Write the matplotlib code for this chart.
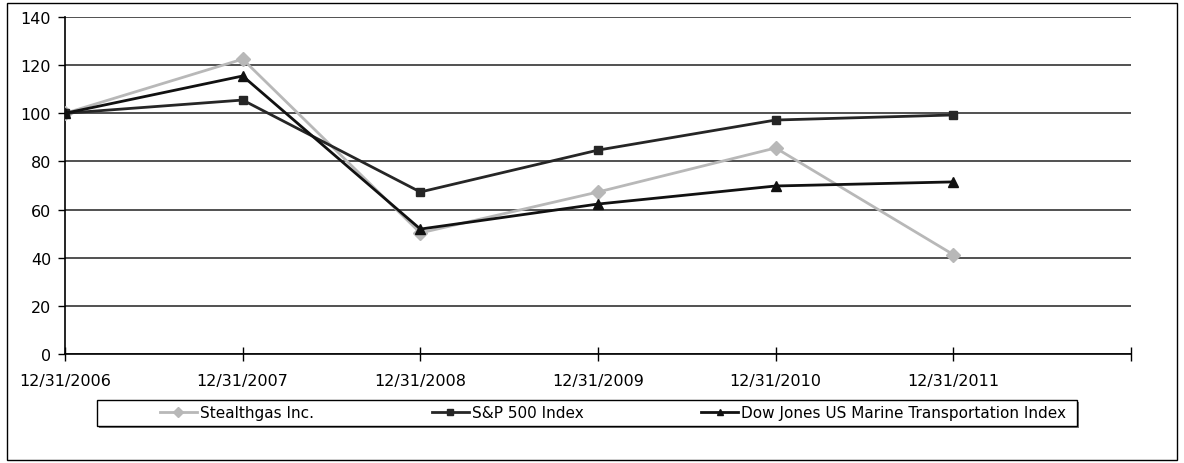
import matplotlib.pyplot as plt
from matplotlib.patches import Rectangle

plt.rcParams['font.family'] = ['DejaVu Sans']

dates = ['12/31/2006', '12/31/2007', '12/31/2008', '12/31/2009', '12/31/2010', '12/31/2011']
stealthgas = [100, 122.5, 50.3, 67.3, 85.6, 41.3]
sp500 = [100, 105.5, 67.3, 84.7, 97.2, 99.3]
dow_marine = [100, 115.5, 51.9, 62.3, 69.8, 71.5]

fig = plt.figure(figsize=(11.84, 4.64), dpi=100)
ax = fig.add_axes([0.0549, 0.2349, 0.9003, 0.7263])

# outer border round the whole chart
fig.patches.append(Rectangle((0.006, 0.006), 0.988, 0.986, transform=fig.transFigure,
                             fill=False, edgecolor='black', linewidth=1.0))

x = list(range(len(dates)))
ax.plot(x, stealthgas, color='#b8b8b8', marker='D', markersize=7, linewidth=2,
        label='Stealthgas Inc.', zorder=3)
ax.plot(x, sp500, color='#262626', marker='s', markersize=5.5, linewidth=2,
        label='S&P 500 Index', zorder=4)
ax.plot(x, dow_marine, color='#111111', marker='^', markersize=6.5, linewidth=2,
        label='Dow Jones US Marine Transportation Index', zorder=5)

ax.set_xlim(0, 6)
ax.set_ylim(0, 140)
ax.set_yticks(range(0, 141, 20))
ax.set_xticks(range(0, 7))
ax.set_xticklabels(dates + [''])
ax.yaxis.grid(True, color='#333333', linewidth=1.2)
ax.set_axisbelow(True)
for s in ['top', 'right']:
    ax.spines[s].set_visible(False)
ax.spines['left'].set_linewidth(1.2)
ax.spines['bottom'].set_linewidth(1.2)
ax.tick_params(axis='both', labelsize=11.5)
ax.tick_params(axis='x', direction='inout', length=10, width=1, pad=9)
ax.tick_params(axis='y', direction='out', length=5, width=1, pad=5)

# legend box with a shadow, entries placed inside it
fig.patches.append(Rectangle((0.0836, 0.0754), 0.8277, 0.056, transform=fig.transFigure,
                             facecolor='#777777', edgecolor='none', zorder=1))
fig.patches.append(Rectangle((0.0819, 0.0797), 0.8277, 0.056, transform=fig.transFigure,
                             facecolor='white', edgecolor='black', linewidth=1.0, zorder=2))
leg = fig.legend(loc='center left', bbox_to_anchor=(160 / 1184, 1 - 414 / 464),
                 ncol=3, fontsize=11, frameon=False, handlelength=2.42,
                 handletextpad=0.2, columnspacing=7.7, borderaxespad=0, borderpad=0)
for h in leg.legend_handles:
    h.set_markersize(5)
    h.set_linewidth(2)

fig.savefig('out.png', dpi=100)
